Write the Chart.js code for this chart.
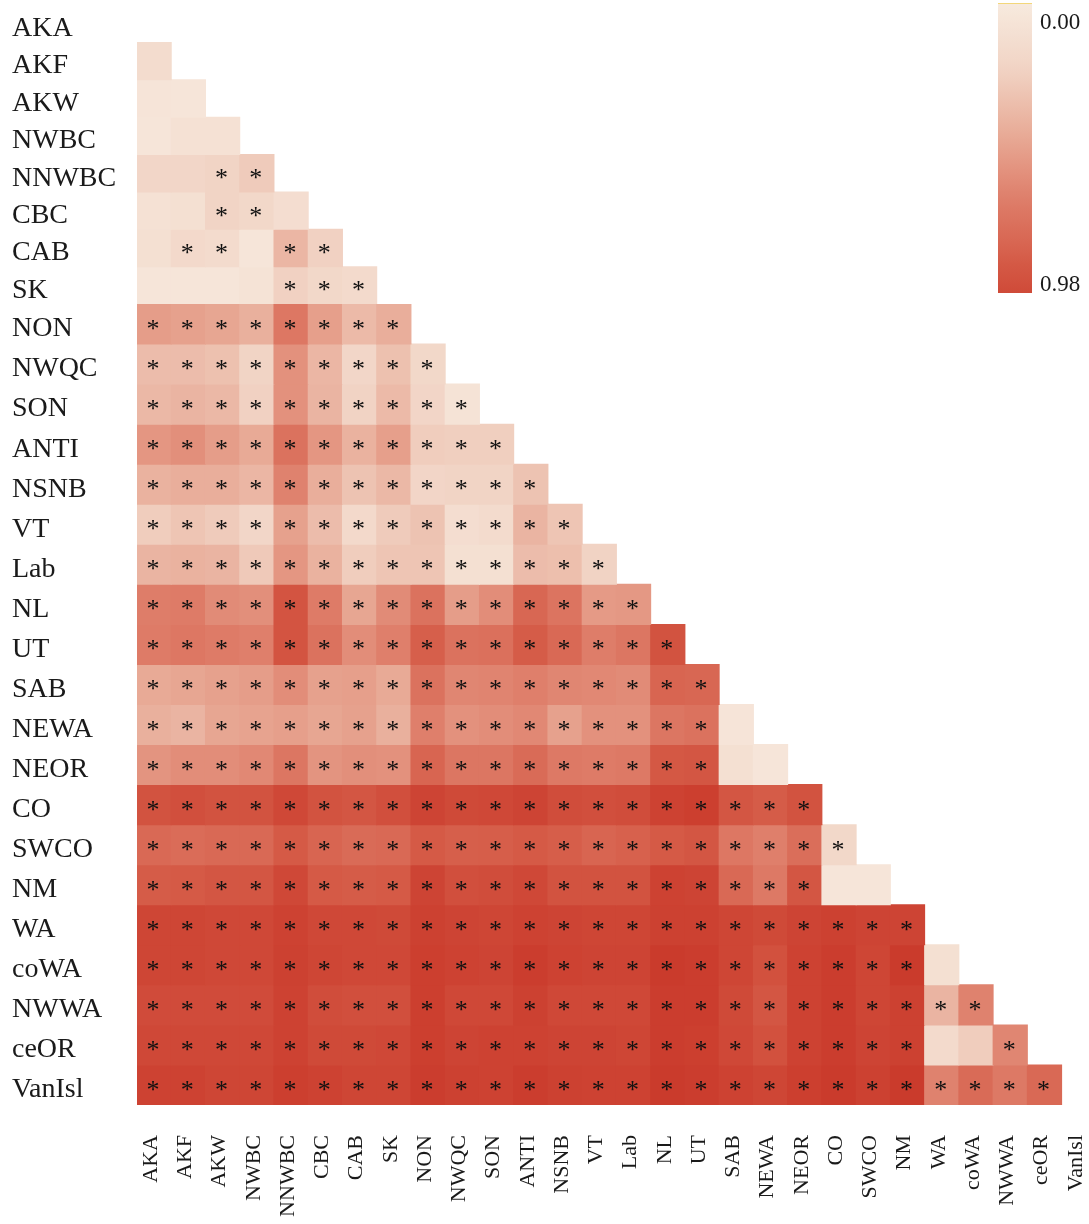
<!DOCTYPE html>
<html>
<head>
<meta charset="utf-8">
<script src="https://cdn.jsdelivr.net/npm/chart.js@4.4.1/dist/chart.umd.min.js"></script>
<style>
  html, body { margin: 0; padding: 0; background: #ffffff; }
  #wrap { width: 1089px; height: 1224px; }
</style>
</head>
<body>
<div id="wrap"><canvas id="heat" width="1089" height="1224"></canvas></div>
<script>
// Population labels (rows top-to-bottom, columns left-to-right)
const populations = ['AKA', 'AKF', 'AKW', 'NWBC', 'NNWBC', 'CBC', 'CAB', 'SK', 'NON', 'NWQC',
  'SON', 'ANTI', 'NSNB', 'VT', 'Lab', 'NL', 'UT', 'SAB', 'NEWA', 'NEOR', 'CO', 'SWCO', 'NM',
  'WA', 'coWA', 'NWWA', 'ceOR', 'VanIsl'];

// Pairwise differentiation, lower triangle: row i lists its values against populations 0..i-1
const rowAKA = [];
const rowAKF = [0.12];
const rowAKW = [0.05, 0.04];
const rowNWBC = [0.04, 0.08, 0.08];
const rowNNWBC = [0.17, 0.17, 0.19, 0.24];
const rowCBC = [0.08, 0.09, 0.19, 0.16, 0.11];
const rowCAB = [0.09, 0.15, 0.13, 0.04, 0.34, 0.21];
const rowSK = [0.04, 0.04, 0.04, 0.06, 0.21, 0.16, 0.14];
const rowNON = [0.46, 0.44, 0.42, 0.37, 0.63, 0.45, 0.32, 0.38];
const rowNWQC = [0.31, 0.31, 0.29, 0.19, 0.51, 0.34, 0.17, 0.29, 0.16];
const rowSON = [0.33, 0.35, 0.33, 0.21, 0.51, 0.35, 0.20, 0.32, 0.18, 0.06];
const rowANTI = [0.49, 0.52, 0.46, 0.40, 0.66, 0.49, 0.36, 0.45, 0.23, 0.22, 0.22];
const rowNSNB = [0.36, 0.38, 0.38, 0.34, 0.58, 0.38, 0.28, 0.33, 0.18, 0.19, 0.19, 0.28];
const rowVT = [0.23, 0.27, 0.24, 0.17, 0.44, 0.31, 0.15, 0.24, 0.28, 0.11, 0.13, 0.35, 0.27];
const rowLab = [0.35, 0.36, 0.35, 0.25, 0.49, 0.36, 0.23, 0.27, 0.27, 0.09, 0.09, 0.31, 0.30, 0.20];
const rowNL = [0.60, 0.61, 0.54, 0.52, 0.82, 0.61, 0.42, 0.54, 0.66, 0.46, 0.53, 0.72, 0.65, 0.47, 0.48];
const rowUT = [0.61, 0.63, 0.61, 0.59, 0.82, 0.66, 0.53, 0.59, 0.76, 0.66, 0.67, 0.78, 0.71, 0.60, 0.64, 0.83];
const rowSAB = [0.40, 0.42, 0.44, 0.46, 0.53, 0.44, 0.45, 0.40, 0.66, 0.56, 0.57, 0.59, 0.56, 0.55, 0.54, 0.73, 0.72];
const rowNEWA = [0.37, 0.35, 0.42, 0.43, 0.45, 0.42, 0.44, 0.37, 0.59, 0.51, 0.53, 0.55, 0.44, 0.51, 0.51, 0.64, 0.66, 0.05];
const rowNEOR = [0.50, 0.53, 0.53, 0.55, 0.64, 0.50, 0.52, 0.51, 0.73, 0.64, 0.64, 0.70, 0.62, 0.61, 0.62, 0.80, 0.81, 0.09, 0.04];
const rowCO = [0.83, 0.85, 0.83, 0.83, 0.89, 0.83, 0.81, 0.85, 0.91, 0.88, 0.89, 0.91, 0.86, 0.85, 0.86, 0.92, 0.94, 0.81, 0.78, 0.83];
const rowSWCO = [0.71, 0.69, 0.71, 0.71, 0.79, 0.73, 0.70, 0.71, 0.79, 0.76, 0.77, 0.79, 0.77, 0.73, 0.75, 0.79, 0.81, 0.63, 0.59, 0.68, 0.16];
const rowNM = [0.78, 0.79, 0.81, 0.81, 0.89, 0.79, 0.78, 0.79, 0.91, 0.85, 0.86, 0.89, 0.83, 0.83, 0.83, 0.92, 0.91, 0.71, 0.62, 0.81, 0.04, 0.04];
const rowWA = [0.90, 0.90, 0.89, 0.89, 0.92, 0.89, 0.89, 0.88, 0.93, 0.91, 0.90, 0.92, 0.91, 0.90, 0.90, 0.93, 0.93, 0.90, 0.88, 0.91, 0.93, 0.91, 0.91];
const rowCoWA = [0.90, 0.90, 0.89, 0.89, 0.93, 0.90, 0.89, 0.89, 0.94, 0.92, 0.91, 0.95, 0.92, 0.91, 0.91, 0.96, 0.95, 0.90, 0.84, 0.92, 0.95, 0.90, 0.96, 0.09];
const rowNWWA = [0.87, 0.87, 0.87, 0.87, 0.92, 0.86, 0.85, 0.85, 0.94, 0.89, 0.89, 0.93, 0.89, 0.89, 0.89, 0.95, 0.95, 0.88, 0.81, 0.92, 0.95, 0.90, 0.93, 0.35, 0.58];
const rowCeOR = [0.89, 0.89, 0.89, 0.89, 0.92, 0.88, 0.88, 0.89, 0.94, 0.91, 0.92, 0.92, 0.91, 0.91, 0.90, 0.95, 0.94, 0.89, 0.84, 0.92, 0.95, 0.91, 0.93, 0.14, 0.23, 0.56];
const rowVanIsl = [0.92, 0.92, 0.90, 0.90, 0.94, 0.92, 0.90, 0.90, 0.95, 0.93, 0.92, 0.95, 0.93, 0.92, 0.92, 0.96, 0.95, 0.92, 0.90, 0.94, 0.96, 0.93, 0.96, 0.58, 0.70, 0.62, 0.71];

const distanceRows = [rowAKA, rowAKF, rowAKW, rowNWBC, rowNNWBC, rowCBC, rowCAB, rowSK, rowNON,
  rowNWQC, rowSON, rowANTI, rowNSNB, rowVT, rowLab, rowNL, rowUT, rowSAB, rowNEWA, rowNEOR, rowCO,
  rowSWCO, rowNM, rowWA, rowCoWA, rowNWWA, rowCeOR, rowVanIsl];

// Significance flags per row ('1' = marked with an asterisk)
const significance = [
  '', '0', '00', '000', '0011', '00110', '011011', '0000111',
  '11111111', '111111111', '1111111111', '11111111111', '111111111111',
  '1111111111111', '11111111111111', '111111111111111', '1111111111111111',
  '11111111111111111', '111111111111111110', '1111111111111111100',
  '11111111111111111111', '111111111111111111111', '1111111111111111111100',
  '11111111111111111111111', '111111111111111111111110', '1111111111111111111111111',
  '11111111111111111111111001', '111111111111111111111111111'
];

// Colour bar end labels
const colorbarLabels = ['0.00', '0.98'];

// Cream-to-red ramp
const rampStops = [
  [0.0, [247, 234, 222]],
  [0.2, [241, 211, 196]],
  [0.4, [232, 170, 150]],
  [0.6, [222, 125, 105]],
  [0.8, [212, 88, 68]],
  [1.0, [200, 52, 38]]
];
function rampColor(v) {
  v = Math.max(0, Math.min(1, v));
  for (let k = 1; k < rampStops.length; k++) {
    const [p1, c1] = rampStops[k];
    const [p0, c0] = rampStops[k - 1];
    if (v <= p1) {
      const t = (v - p0) / (p1 - p0);
      const c = c0.map((a, n) => Math.round(a + (c1[n] - a) * t));
      return `rgb(${c[0]},${c[1]},${c[2]})`;
    }
  }
  const c = rampStops[rampStops.length - 1][1];
  return `rgb(${c[0]},${c[1]},${c[2]})`;
}

const TOP_ROWS = 8;
const datasets = [];
distanceRows.forEach((row, i) => {
  if (!row.length) return;
  datasets.push({
    label: populations[i],
    // column j occupies [j, j + 1] on the x scale, row i occupies [i, i + 1] on the y scales
    data: row.map((v, j) => ({ x: j + 0.5, y: [i, i + 1], v: v, sig: significance[i][j] === '1' })),
    backgroundColor: row.map(v => rampColor(v)),
    yAxisID: i < TOP_ROWS ? 'yTop' : 'yBottom',
    grouped: false,
    barPercentage: 1,
    categoryPercentage: 1,
    borderWidth: 0,
    inflateAmount: 0.5
  });
});

const serif = '"Liberation Serif", "DejaVu Serif", serif';

// Asterisks on significant cells and the colour bar
const overlay = {
  id: 'overlay',
  afterDatasetsDraw(chart) {
    const ctx = chart.ctx;
    ctx.save();
    ctx.font = `26px ${serif}`;
    ctx.fillStyle = '#111111';
    ctx.textAlign = 'center';
    ctx.textBaseline = 'alphabetic';
    chart.data.datasets.forEach((ds, di) => {
      const meta = chart.getDatasetMeta(di);
      meta.data.forEach((bar, k) => {
        if (!ds.data[k].sig) return;
        const p = bar.getProps(['x', 'y', 'base'], true);
        const cy = (p.y + p.base) / 2;
        ctx.fillText('*', p.x - 1, cy + 13);
      });
    });

    // colour bar
    const bx = 998, by = 4, bw = 34, bh = 289;
    const grad = ctx.createLinearGradient(0, by, 0, by + bh);
    for (let s = 0; s <= 20; s++) grad.addColorStop(s / 20, rampColor(0.88 * s / 20));
    ctx.fillStyle = grad;
    ctx.fillRect(bx, by, bw, bh);
    ctx.fillStyle = '#f3d77a';
    ctx.fillRect(bx, by - 1, bw, 1);
    ctx.fillStyle = '#1a1a1a';
    ctx.textAlign = 'left';
    ctx.textBaseline = 'middle';
    ctx.font = `23px ${serif}`;
    ctx.fillText(colorbarLabels[0], bx + bw + 8, 23);
    ctx.fillText(colorbarLabels[1], bx + bw + 8, 285);
    ctx.restore();
  }
};

function centredTicks(lo, hi) {
  return function (scale) {
    const t = [];
    for (let r = lo; r < hi; r++) t.push({ value: r + 0.5 });
    scale.ticks = t;
  };
}
function fitRowAxis(s) {
  s.width = 125;
  s.paddingTop = 0;
  s.paddingBottom = 0;
}
const yTickOpts = {
  autoSkip: false,
  crossAlign: 'far',
  padding: 0,
  labelOffset: 5,
  color: '#1a1a1a',
  font: { family: serif, size: 28 },
  callback: v => populations[Math.floor(v)]
};

new Chart(document.getElementById('heat'), {
  type: 'bar',
  data: { datasets: datasets },
  options: {
    responsive: false,
    animation: false,
    events: [],
    layout: { padding: { left: 12, right: 0, top: 5, bottom: 0 } },
    plugins: { legend: { display: false }, tooltip: { enabled: false } },
    scales: {
      x: {
        type: 'linear',
        min: 0,
        max: 27.8,
        offset: false,
        grid: { display: false, drawTicks: false },
        border: { display: false },
        afterBuildTicks: centredTicks(0, populations.length),
        ticks: {
          autoSkip: false,
          minRotation: 90,
          maxRotation: 90,
          padding: 30,
          labelOffset: -3,
          color: '#1a1a1a',
          font: { family: serif, size: 22 },
          callback: v => populations[Math.floor(v)]
        },
        afterFit: s => {
          s.height = 119;
          s.paddingLeft = 0;
          s.paddingRight = 0;
        }
      },
      yTop: {
        type: 'linear',
        position: 'left',
        stack: 'rows',
        stackWeight: 299,
        weight: 2,
        min: 0,
        max: TOP_ROWS,
        reverse: true,
        offset: false,
        grid: { display: false, drawTicks: false },
        border: { display: false },
        afterBuildTicks: centredTicks(0, TOP_ROWS),
        ticks: yTickOpts,
        afterFit: fitRowAxis
      },
      yBottom: {
        type: 'linear',
        position: 'left',
        stack: 'rows',
        stackWeight: 801,
        weight: 1,
        min: TOP_ROWS,
        max: populations.length,
        reverse: true,
        offset: false,
        grid: { display: false, drawTicks: false },
        border: { display: false },
        afterBuildTicks: centredTicks(TOP_ROWS, populations.length),
        ticks: yTickOpts,
        afterFit: fitRowAxis
      }
    }
  },
  plugins: [overlay]
});
</script>
</body>
</html>
